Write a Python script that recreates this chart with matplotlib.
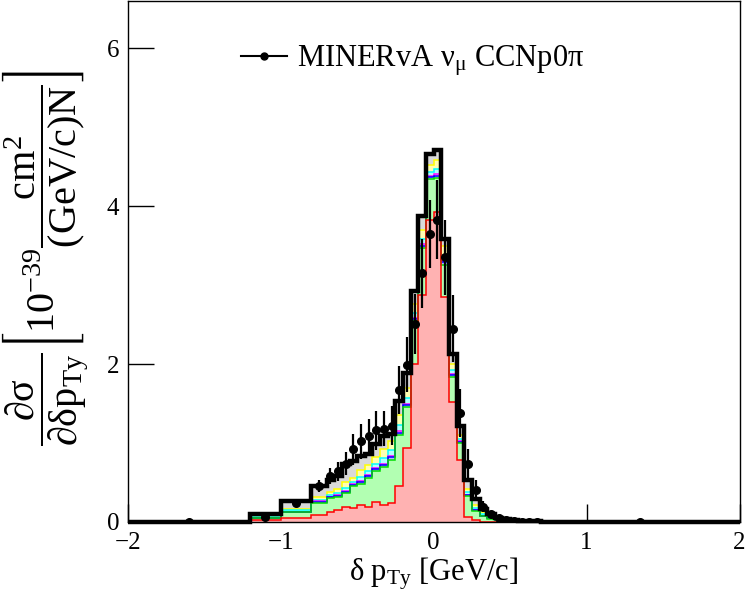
import matplotlib
matplotlib.use('Agg')
import matplotlib.pyplot as plt
from matplotlib.lines import Line2D
import numpy as np

plt.rcParams['font.family'] = ['Liberation Serif', 'DejaVu Serif']
plt.rcParams['mathtext.fontset'] = 'custom'
plt.rcParams['mathtext.rm'] = 'Liberation Serif'
plt.rcParams['mathtext.it'] = 'Liberation Serif:italic'
plt.rcParams['mathtext.bf'] = 'Liberation Serif:bold'
plt.rcParams['mathtext.fallback'] = 'stix'

# bin edges of delta pTy [GeV/c]
edges = [-2.0, -1.2, -1.0, -0.8, -0.7, -0.65, -0.6, -0.55, -0.5, -0.45, -0.4,
         -0.35, -0.3, -0.25, -0.2, -0.15, -0.1, -0.05, 0.0, 0.05, 0.1, 0.15,
         0.2, 0.25, 0.3, 0.35, 0.4, 0.45, 0.5, 0.55, 0.6, 0.65, 0.7, 2.0]

# MC components (stacked, bottom to top)
red = [0.001, 0.02, 0.055, 0.09, 0.12, 0.15, 0.19, 0.18, 0.22, 0.19, 0.25,
       0.215, 0.245, 0.46, 0.94, 2.0, 2.88, 3.82, 3.92, 2.85, 1.52, 0.78,
       0.06, 0.02, 0.005, 0.002, 0.001, 0.0, 0.0, 0.0, 0.0, 0.0, 0.0]
green = [0.001, 0.03, 0.065, 0.155, 0.18, 0.17, 0.18, 0.28, 0.26, 0.37, 0.395,
         0.475, 0.545, 0.64, 0.51, 0.54, 0.59, 0.53, 0.44, 0.41, 0.32, 0.22,
         0.27, 0.12, 0.065, 0.038, 0.019, 0.012, 0.007, 0.005, 0.003, 0.002, 0.001]
blue = [0.0, 0.003, 0.006, 0.009, 0.01, 0.012, 0.015, 0.012, 0.02, 0.02, 0.02,
        0.028, 0.028, 0.03, 0.03, 0.026, 0.028, 0.02, 0.026, 0.028, 0.02, 0.012,
        0.01, 0.01, 0.006, 0.004, 0.002, 0.002, 0.001, 0.0, 0.0, 0.0, 0.0]
magenta = [0.0, 0.001, 0.004, 0.006, 0.006, 0.008, 0.01, 0.008, 0.015, 0.012, 0.014,
           0.018, 0.018, 0.02, 0.02, 0.018, 0.018, 0.014, 0.018, 0.018, 0.012, 0.008,
           0.007, 0.006, 0.004, 0.002, 0.002, 0.001, 0.0, 0.0, 0.0, 0.0, 0.0]
cyan = [0.0, 0.006, 0.015, 0.022, 0.024, 0.03, 0.04, 0.03, 0.055, 0.048, 0.053,
        0.07, 0.07, 0.08, 0.075, 0.066, 0.07, 0.05, 0.066, 0.07, 0.048, 0.03,
        0.027, 0.024, 0.015, 0.009, 0.006, 0.004, 0.002, 0.002, 0.001, 0.001, 0.0]
yellow = [0.001, 0.01, 0.025, 0.038, 0.04, 0.05, 0.065, 0.05, 0.09, 0.08, 0.088,
          0.114, 0.114, 0.13, 0.125, 0.11, 0.114, 0.086, 0.11, 0.114, 0.08, 0.05,
          0.046, 0.04, 0.025, 0.015, 0.01, 0.006, 0.004, 0.003, 0.002, 0.001, 0.001]
grey = [0.001, 0.035, 0.096, 0.13, 0.15, 0.16, 0.23, 0.21, 0.18, 0.14, 0.17,
        0.17, 0.10, 0.17, 0.19, 0.17, 0.17, 0.14, 0.13, 0.09, 0.13, 0.11,
        0.11, 0.07, 0.04, 0.03, 0.015, 0.01, 0.006, 0.005, 0.004, 0.003, 0.001]

# MINERvA data
data = [0.0, 0.057, 0.24, 0.455, 0.58, 0.64, 0.74, 0.92, 1.02, 1.09, 1.16,
        1.18, 1.22, 1.67, 1.99, 2.51, 3.15, 3.65, 3.83, 3.35, 2.45, 1.38,
        0.73, 0.41, 0.19, 0.096, 0.047, 0.023, 0.01, 0.005, 0.003, 0.002, 0.0005]
data_err = [0.005, 0.03, 0.05, 0.08, 0.1, 0.12, 0.15, 0.2, 0.22, 0.22, 0.25,
            0.22, 0.25, 0.3, 0.35, 0.38, 0.44, 0.43, 0.5, 0.47, 0.42, 0.3,
            0.2, 0.12, 0.07, 0.04, 0.03, 0.02, 0.01, 0.008, 0.006, 0.004, 0.002]

layers = [
    (red, '#ffb2b2', '#ff0000'),
    (green, '#b2ffb2', '#00dd00'),
    (blue, '#b2b2ff', '#0000ff'),
    (magenta, '#ffb2ff', '#ff00ff'),
    (cyan, '#b2ffff', '#00ffff'),
    (yellow, '#ffffb2', '#ffff00'),
    (grey, '#d9d9d9', '#c8c8c8'),
]

edges_a = np.array(edges)
centers = 0.5 * (edges_a[1:] + edges_a[:-1])

fig = plt.figure(figsize=(7.47, 6.02), dpi=100)
ax = fig.add_axes([0.171, 0.133, 0.819, 0.8655])

# cumulative sums, drawn from the top one down (like THStack)
cum = []
run = np.zeros(len(red))
for vals, fc, lc in layers:
    run = run + np.array(vals)
    cum.append((run.copy(), fc, lc))

for vals, fc, lc in reversed(cum):
    ax.stairs(vals, edges, fill=True, color=fc, zorder=2)
    ax.stairs(vals, edges, color=lc, lw=1.1, zorder=2.5)

total = cum[-1][0]
ax.stairs(total, edges, color='black', lw=3.2, zorder=4, clip_on=False)

ax.errorbar(centers, data, yerr=data_err, fmt='o', color='black', ms=5.5,
            elinewidth=1.6, capsize=0, zorder=5)

ax.set_xlim(-2, 2)
ax.set_ylim(0, 6.6)
ax.set_xticks([-2, -1, 0, 1, 2])
ax.set_yticks([0, 2, 4, 6])
ax.tick_params(direction='in', labelsize=18, length=13, width=1, pad=7)
ax.tick_params(axis='y', length=19, pad=6)
for s in ax.spines.values():
    s.set_linewidth(1.0)

ax.set_xlabel(r'δ p$_{\mathrm{Ty}}$ [GeV/c]', fontsize=22, labelpad=1)

ylab = (r'$\dfrac{\mathrm{∂σ}}{\mathrm{∂δp}_{\mathrm{Ty}}}'
        r'\left[10^{-39}\dfrac{\mathrm{cm}^{2}}{\mathrm{(GeV/c)N}}\right]$')
fig.text(0.061, 0.572, ylab, rotation=90, ha='center', va='center', fontsize=29)

h = Line2D([], [], color='black', marker='o', ms=5, lw=1.5)
ax.legend([h], [r'MINERvA $\mathrm{ν}_{\mathrm{μ}}$ CCNp0π'], loc='center left',
          bbox_to_anchor=(0.185, 0.885), frameon=False, fontsize=22,
          handlelength=1.5, handletextpad=0.35, borderpad=0, borderaxespad=0)

fig.savefig('out.png', dpi=100)
